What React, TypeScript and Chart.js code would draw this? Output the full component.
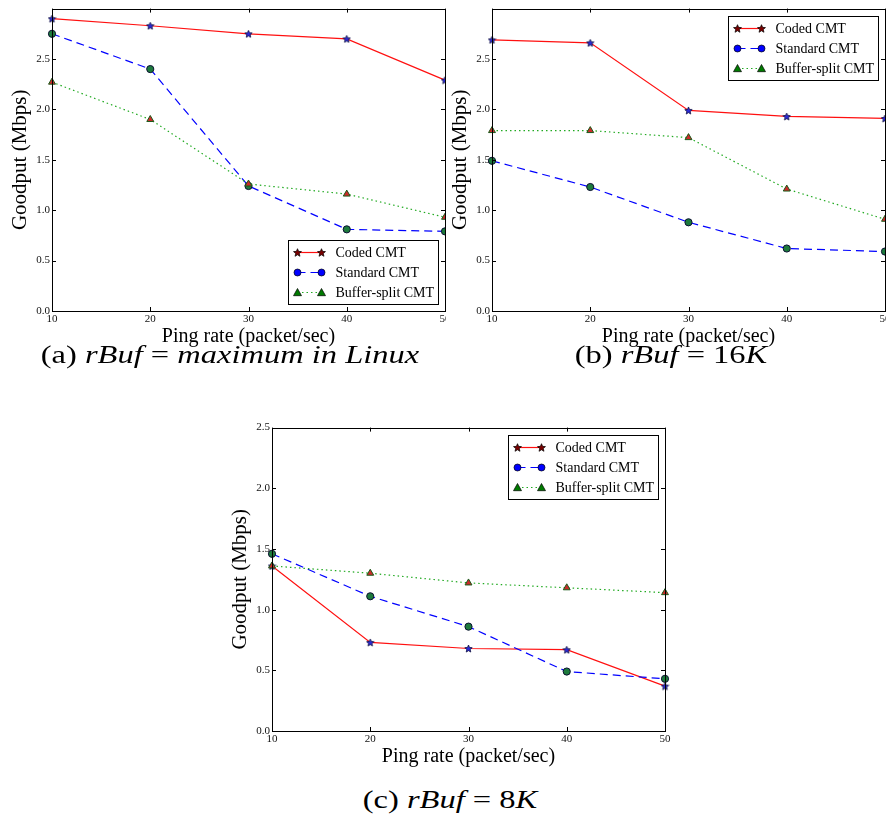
import React, { useEffect, useRef } from "react";
import { Chart, registerables } from "chart.js";
Chart.register(...registerables);

// ---------- data ----------
const pingRates = [10, 20, 30, 40, 50];
const seriesNames = ["Coded CMT", "Standard CMT", "Buffer-split CMT"];

const codedA = [2.9, 2.83, 2.75, 2.7, 2.29];
const standardA = [2.75, 2.4, 1.24, 0.81, 0.79];
const bufferA = [2.27, 1.9, 1.26, 1.16, 0.93];

const codedB = [2.69, 2.66, 1.99, 1.93, 1.91];
const standardB = [1.49, 1.23, 0.88, 0.62, 0.59];
const bufferB = [1.79, 1.79, 1.72, 1.21, 0.91];

const codedC = [1.36, 0.73, 0.68, 0.67, 0.37];
const standardC = [1.46, 1.11, 0.86, 0.49, 0.43];
const bufferC = [1.36, 1.3, 1.22, 1.18, 1.14];

const yTicks = [0, 0.5, 1.0, 1.5, 2.0, 2.5];
const yMaxAB = 3.0;
const yMaxC = 2.5;

const xTitle = "Ping rate (packet/sec)";
const yTitle = "Goodput (Mbps)";

const SERIF = '"Liberation Serif", "Times New Roman", serif';

function makeStar(fill: string, stroke: string, size: number) {
  const c = document.createElement("canvas");
  c.width = size;
  c.height = size;
  const ctx = c.getContext("2d")!;
  const cx = size / 2, cy = size / 2 + 0.4, R = size / 2 - 0.6, r = R * 0.45;
  ctx.beginPath();
  for (let i = 0; i < 10; i++) {
    const ang = -Math.PI / 2 + (i * Math.PI) / 5;
    const rad = i % 2 ? r : R;
    ctx.lineTo(cx + rad * Math.cos(ang), cy + rad * Math.sin(ang));
  }
  ctx.closePath();
  ctx.fillStyle = fill;
  ctx.fill();
  ctx.strokeStyle = stroke;
  ctx.lineWidth = 0.8;
  ctx.stroke();
  return c;
}

function drawMarker(ctx: CanvasRenderingContext2D, shape: string, fill: string, x: number, y: number) {
  ctx.save();
  ctx.setLineDash([]);
  ctx.fillStyle = fill;
  ctx.strokeStyle = "#000";
  ctx.lineWidth = 0.7;
  ctx.beginPath();
  if (shape === "star") {
    const R = 4.2, r = R * 0.45;
    for (let i = 0; i < 10; i++) {
      const ang = -Math.PI / 2 + (i * Math.PI) / 5;
      const rad = i % 2 ? r : R;
      ctx.lineTo(x + rad * Math.cos(ang), y + 0.4 + rad * Math.sin(ang));
    }
    ctx.closePath();
  } else if (shape === "circle") {
    ctx.arc(x, y, 3.5, 0, Math.PI * 2);
  } else {
    const s = 4;
    ctx.moveTo(x, y - s);
    ctx.lineTo(x + s, y + s * 0.8);
    ctx.lineTo(x - s, y + s * 0.8);
    ctx.closePath();
  }
  ctx.fill();
  ctx.stroke();
  ctx.restore();
}

const framePlugin = {
  id: "frameLegend",
  afterDatasetsDraw(chart: any, _args: any, opts: any) {
    const { ctx, chartArea: a } = chart;
    const xs = chart.scales.x, ys = chart.scales.y;
    ctx.save();
    ctx.strokeStyle = "#000";
    ctx.lineWidth = 1;
    ctx.setLineDash([]);
    ctx.beginPath();
    xs.ticks.forEach((t: any) => {
      const px = Math.round(xs.getPixelForValue(t.value)) + 0.5;
      ctx.moveTo(px, a.bottom);
      ctx.lineTo(px, a.bottom - 4);
      ctx.moveTo(px, a.top);
      ctx.lineTo(px, a.top + 4);
    });
    ys.ticks.forEach((t: any) => {
      const py = Math.round(ys.getPixelForValue(t.value)) + 0.5;
      ctx.moveTo(a.left, py);
      ctx.lineTo(a.left + 4, py);
      ctx.moveTo(a.right, py);
      ctx.lineTo(a.right - 4, py);
    });
    ctx.stroke();
    ctx.strokeRect(Math.round(a.left) + 0.5, Math.round(a.top) + 0.5, Math.round(a.width), Math.round(a.height));

    // legend
    const bw = 150, bh = 64;
    const bx = Math.round(a.right - 7 - bw) + 0.5;
    const by = Math.round(opts.corner === "lr" ? a.bottom - 7 - bh : a.top + 7) + 0.5;
    ctx.fillStyle = "#fff";
    ctx.fillRect(bx, by, bw, bh);
    ctx.strokeStyle = "#000";
    ctx.lineWidth = 1;
    ctx.strokeRect(bx, by, bw, bh);
    chart.data.datasets.forEach((ds: any, i: number) => {
      const y = by + 12 + 20 * i;
      ctx.save();
      ctx.strokeStyle = ds.borderColor;
      ctx.lineWidth = ds.borderWidth;
      ctx.setLineDash(ds.borderDash || []);
      ctx.beginPath();
      ctx.moveTo(bx + 9, y);
      ctx.lineTo(bx + 33, y);
      ctx.stroke();
      ctx.restore();
      drawMarker(ctx, ds.legendShape, ds.legendFill, bx + 9, y);
      drawMarker(ctx, ds.legendShape, ds.legendFill, bx + 33, y);
      ctx.fillStyle = "#000";
      ctx.font = `14px ${SERIF}`;
      ctx.textBaseline = "middle";
      ctx.textAlign = "left";
      ctx.fillText(ds.label, bx + 47, y + 1);
    });
    ctx.restore();
  },
};

type PanelProps = {
  left: number;
  top: number;
  clipWidth: number;
  canvasWidth: number;
  canvasHeight: number;
  rightPad: number;
  coded: number[];
  standard: number[];
  buffer: number[];
  yMax: number;
  corner: string;
};

function Panel(p: PanelProps) {
  const ref = useRef<HTMLCanvasElement>(null);
  useEffect(() => {
    const star = makeStar("#2a2ad8", "#101040", 9);
    const fontTick = { family: SERIF, size: 11 };
    const chart = new Chart(ref.current!, {
      type: "line",
      data: {
        datasets: [
          {
            label: seriesNames[0],
            data: pingRates.map((x, i) => ({ x, y: p.coded[i] })),
            borderColor: "#ff1010",
            borderWidth: 1.2,
            borderDash: [],
            pointStyle: star as any,
            pointRadius: 4,
            clip: false as any,
            order: 2,
            legendShape: "star",
            legendFill: "#7a0000",
          } as any,
          {
            label: seriesNames[1],
            data: pingRates.map((x, i) => ({ x, y: p.standard[i] })),
            borderColor: "#0000ff",
            borderWidth: 1.2,
            borderDash: [8, 5],
            pointStyle: "circle",
            pointRadius: 3.6,
            pointBackgroundColor: "#1d7a3c",
            pointBorderColor: "#0a1030",
            pointBorderWidth: 1,
            clip: false as any,
            order: 1,
            legendShape: "circle",
            legendFill: "#0000ff",
          } as any,
          {
            label: seriesNames[2],
            data: pingRates.map((x, i) => ({ x, y: p.buffer[i] })),
            borderColor: "#22aa22",
            borderWidth: 1.2,
            borderDash: [1.5, 3],
            pointStyle: "triangle",
            pointRadius: 4,
            pointBackgroundColor: "#cc2a2a",
            pointBorderColor: "#1a5a1a",
            pointBorderWidth: 1,
            clip: false as any,
            order: 0,
            legendShape: "triangle",
            legendFill: "#007a00",
          } as any,
        ],
      },
      options: {
        animation: false,
        responsive: false,
        maintainAspectRatio: false,
        layout: { padding: { left: 7.4, top: 7, right: p.rightPad, bottom: 0 } },
        plugins: {
          legend: { display: false },
          tooltip: { enabled: false },
          frameLegend: { corner: p.corner },
        } as any,
        scales: {
          x: {
            type: "linear",
            min: 10,
            max: 50,
            afterBuildTicks: (s: any) => {
              s.ticks = pingRates.map((v) => ({ value: v }));
            },
            afterFit: (s: any) => {
              s.height = 38;
            },
            grid: { display: false, drawTicks: false },
            border: { display: false },
            ticks: {
              padding: 2,
              font: fontTick,
              color: "#111",
              maxRotation: 0,
              autoSkip: false,
              callback: (v: any) => String(v),
            },
            title: { display: true, text: xTitle, font: { family: SERIF, size: 20 }, color: "#000", padding: 0 },
          },
          y: {
            type: "linear",
            min: 0,
            max: p.yMax,
            afterBuildTicks: (s: any) => {
              s.ticks = yTicks.map((v) => ({ value: v }));
            },
            afterFit: (s: any) => {
              s.width = 44.6;
            },
            grid: { display: false, drawTicks: false },
            border: { display: false },
            ticks: {
              padding: 2,
              font: fontTick,
              color: "#111",
              callback: (v: any) => Number(v).toFixed(1),
            },
            title: { display: true, text: yTitle, font: { family: SERIF, size: 21 }, color: "#000", padding: 0 },
          },
        },
      } as any,
      plugins: [framePlugin as any],
    });
    return () => chart.destroy();
  }, []);
  return (
    <div
      style={{
        position: "absolute",
        left: p.left,
        top: p.top,
        width: p.clipWidth,
        height: p.canvasHeight,
        overflow: "hidden",
      }}
    >
      <canvas ref={ref} width={p.canvasWidth} height={p.canvasHeight} style={{ display: "block" }} />
    </div>
  );
}

function Caption({ cx, cy, children }: { cx: number; cy: number; children: any }) {
  return (
    <div
      style={{
        position: "absolute",
        left: cx - 250,
        top: cy - 15,
        width: 500,
        textAlign: "center",
        fontFamily: SERIF,
        fontSize: 25,
        lineHeight: "30px",
        whiteSpace: "nowrap",
        color: "#000",
        transform: "scaleX(1.3)",
        transformOrigin: "center center",
      }}
    >
      {children}
    </div>
  );
}

export default function App() {
  return (
    <div
      style={{
        position: "fixed",
        left: 0,
        top: 0,
        width: 886,
        height: 821,
        overflow: "hidden",
        background: "#fff",
      }}
    >
      <Panel left={0} top={0} clipWidth={446} canvasWidth={470} canvasHeight={349} rightPad={25}
        coded={codedA} standard={standardA} buffer={bufferA} yMax={yMaxAB} corner="lr" />
      <Panel left={440} top={0} clipWidth={446} canvasWidth={470} canvasHeight={349} rightPad={25}
        coded={codedB} standard={standardB} buffer={bufferB} yMax={yMaxAB} corner="ur" />
      <Panel left={220} top={419} clipWidth={465} canvasWidth={465} canvasHeight={350} rightPad={20}
        coded={codedC} standard={standardC} buffer={bufferC} yMax={yMaxC} corner="ur" />
      <Caption cx={230} cy={355}>
        (a) <i>rBuf</i> = <i>maximum in Linux</i>
      </Caption>
      <Caption cx={671} cy={355}>
        (b) <i>rBuf</i> = 16<i>K</i>
      </Caption>
      <Caption cx={450} cy={800}>
        (c) <i>rBuf</i> = 8<i>K</i>
      </Caption>
    </div>
  );
}
